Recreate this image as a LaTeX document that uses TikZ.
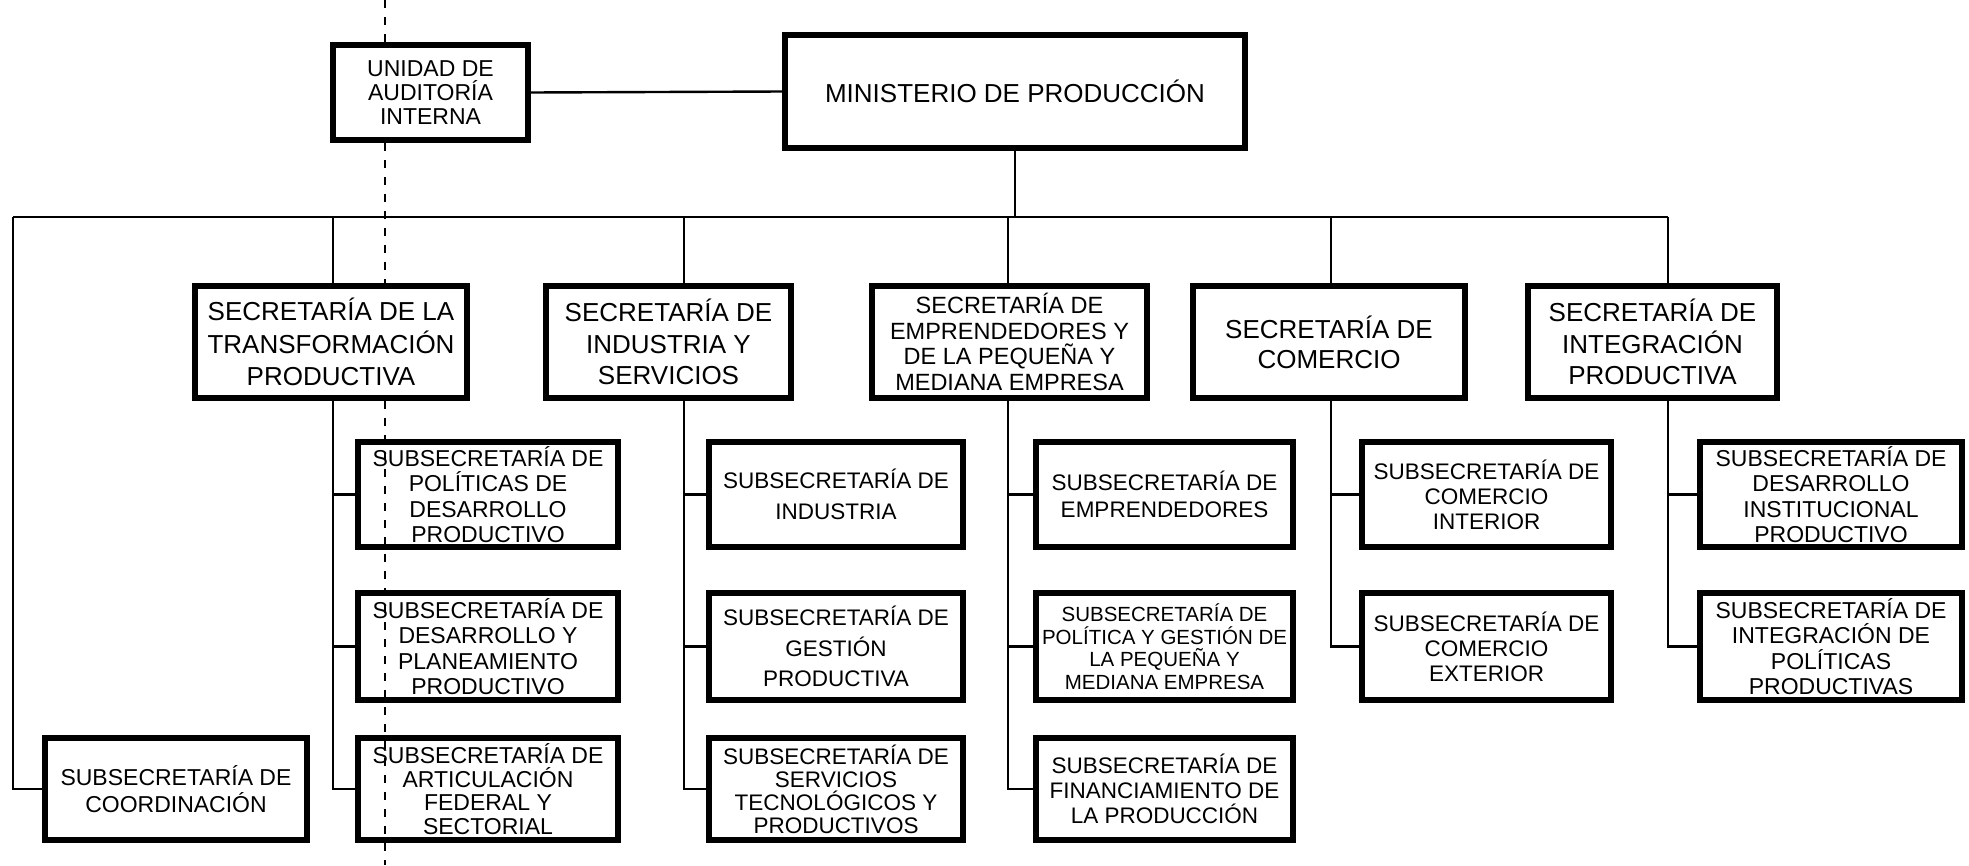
\documentclass[tikz,border=0pt]{standalone}
\usepackage{fontspec}
\setmainfont{Liberation Sans}
\begin{document}
\begin{tikzpicture}[x=1pt,y=-1pt,
  box/.style={draw, line width=5.5pt, align=center, inner sep=1pt},
  link/.style={line width=2.4pt},
  artefact/.style={line width=1.3pt, dash pattern=on 8pt off 9pt},
  fsub/.style={font=\fontsize{23}{25.5}\selectfont},
  fsmall/.style={font=\fontsize{20.5}{22.5}\selectfont}]
\useasboundingbox (0,0) rectangle (1969,865);
\fill[white] (0,0) rectangle (1969,865);

% top level
\node[box, font=\fontsize{26}{28}\selectfont, minimum width=460pt, minimum height=113pt] (min) at (1015,91.5) {MINISTERIO DE PRODUCCIÓN};
\node[box, font=\fontsize{23}{24}\selectfont, minimum width=195pt, minimum height=95pt] (uai) at (430.5,92.5) {UNIDAD DE\\AUDITORÍA\\INTERNA};

% secretarias
\node[box, font=\fontsize{26}{32.5}\selectfont, minimum width=272pt, minimum height=112pt] (s1) at (331,342) {SECRETARÍA DE LA\\TRANSFORMACIÓN\\PRODUCTIVA};
\node[box, font=\fontsize{26}{31.5}\selectfont, minimum width=245pt, minimum height=112pt] (s2) at (668.5,342) {SECRETARÍA DE\\INDUSTRIA Y\\SERVICIOS};
\node[box, font=\fontsize{23.5}{25.5}\selectfont, minimum width=275pt, minimum height=112pt] (s3) at (1009.5,342) {SECRETARÍA DE\\EMPRENDEDORES Y\\DE LA PEQUEÑA Y\\MEDIANA EMPRESA};
\node[box, font=\fontsize{26}{30}\selectfont, minimum width=272pt, minimum height=112pt] (s4) at (1329,342) {SECRETARÍA DE\\COMERCIO};
\node[box, font=\fontsize{26}{31.5}\selectfont, minimum width=249pt, minimum height=112pt] (s5) at (1652.5,342) {SECRETARÍA DE\\INTEGRACIÓN\\PRODUCTIVA};

% column 1
\node[box, fsub, minimum width=260pt, minimum height=105pt] (c11) at (488,494.5) {SUBSECRETARÍA DE\\POLÍTICAS DE\\DESARROLLO\\PRODUCTIVO};
\node[box, fsub, minimum width=260pt, minimum height=107pt] (c12) at (488,646.5) {SUBSECRETARÍA DE\\DESARROLLO Y\\PLANEAMIENTO\\PRODUCTIVO};
\node[box, font=\fontsize{23}{23.5}\selectfont, minimum width=260pt, minimum height=102pt] (c13) at (488,789) {SUBSECRETARÍA DE\\ARTICULACIÓN\\FEDERAL Y\\SECTORIAL};
\node[box, font=\fontsize{23}{27}\selectfont, minimum width=262pt, minimum height=102pt] (coord) at (176,789) {SUBSECRETARÍA DE\\COORDINACIÓN};

% column 2
\node[box, font=\fontsize{22.5}{31}\selectfont, minimum width=254pt, minimum height=105pt] (c21) at (836,494.5) {SUBSECRETARÍA DE\\INDUSTRIA};
\node[box, font=\fontsize{22.5}{30.5}\selectfont, minimum width=254pt, minimum height=107pt] (c22) at (836,646.5) {SUBSECRETARÍA DE\\GESTIÓN\\PRODUCTIVA};
\node[box, font=\fontsize{22.5}{23}\selectfont, minimum width=254pt, minimum height=102pt] (c23) at (836,789) {SUBSECRETARÍA DE\\SERVICIOS\\TECNOLÓGICOS Y\\PRODUCTIVOS};

% column 3
\node[box, font=\fontsize{22.5}{27.5}\selectfont, minimum width=257pt, minimum height=105pt] (c31) at (1164.5,494.5) {SUBSECRETARÍA DE\\EMPRENDEDORES};
\node[box, fsmall, minimum width=257pt, minimum height=107pt] (c32) at (1164.5,646.5) {SUBSECRETARÍA DE\\POLÍTICA Y GESTIÓN DE\\LA PEQUEÑA Y\\MEDIANA EMPRESA};
\node[box, font=\fontsize{22.5}{25}\selectfont, minimum width=257pt, minimum height=102pt] (c33) at (1164.5,789) {SUBSECRETARÍA DE\\FINANCIAMIENTO DE\\LA PRODUCCIÓN};

% column 4
\node[box, font=\fontsize{22.5}{25}\selectfont, minimum width=249pt, minimum height=105pt] (c41) at (1486.5,494.5) {SUBSECRETARÍA DE\\COMERCIO\\INTERIOR};
\node[box, font=\fontsize{22.5}{25}\selectfont, minimum width=249pt, minimum height=107pt] (c42) at (1486.5,646.5) {SUBSECRETARÍA DE\\COMERCIO\\EXTERIOR};

% column 5
\node[box, fsub, minimum width=262pt, minimum height=105pt] (c51) at (1831,494.5) {SUBSECRETARÍA DE\\DESARROLLO\\INSTITUCIONAL\\PRODUCTIVO};
\node[box, fsub, minimum width=262pt, minimum height=107pt] (c52) at (1831,646.5) {SUBSECRETARÍA DE\\INTEGRACIÓN DE\\POLÍTICAS\\PRODUCTIVAS};

% bus coordinates
\coordinate (bus) at (1015,217);
\coordinate (d0) at (13,217);
\coordinate (d1) at (333,217);
\coordinate (d2) at (684,217);
\coordinate (d3) at (1008,217);
\coordinate (d4) at (1331,217);
\coordinate (d5) at (1668,217);

% connectors
\draw[link] (uai.east) -- (min.west);
\draw[link] (min.south) -- (bus);
\draw[link] (d0) -- (d5);
\draw[link] (d0) |- (coord.west);
\draw[link] (d1) -- (d1 |- s1.north);
\draw[link] (d2) -- (d2 |- s2.north);
\draw[link] (d3) -- (d3 |- s3.north);
\draw[link] (d4) -- (d4 |- s4.north);
\draw[link] (d5) -- (d5 |- s5.north);

\draw[link] (d1 |- s1.south) |- (c13.west);
\draw[link] (c11.west) -- (c11.west -| d1);
\draw[link] (c12.west) -- (c12.west -| d1);
\draw[link] (d2 |- s2.south) |- (c23.west);
\draw[link] (c21.west) -- (c21.west -| d2);
\draw[link] (c22.west) -- (c22.west -| d2);
\draw[link] (d3 |- s3.south) |- (c33.west);
\draw[link] (c31.west) -- (c31.west -| d3);
\draw[link] (c32.west) -- (c32.west -| d3);
\draw[link] (d4 |- s4.south) |- (c42.west);
\draw[link] (c41.west) -- (c41.west -| d4);
\draw[link] (d5 |- s5.south) |- (c52.west);
\draw[link] (c51.west) -- (c51.west -| d5);

% scanning fold line
\coordinate (a0) at (385,0);
\coordinate (a1) at (385,865);
\draw[artefact] (a0) -- (a0 |- uai.north);
\draw[artefact] (a0 |- uai.south) -- (a0 |- s1.north);
\draw[artefact] (a0 |- s1.south) -- (a1);
\end{tikzpicture}
\end{document}
